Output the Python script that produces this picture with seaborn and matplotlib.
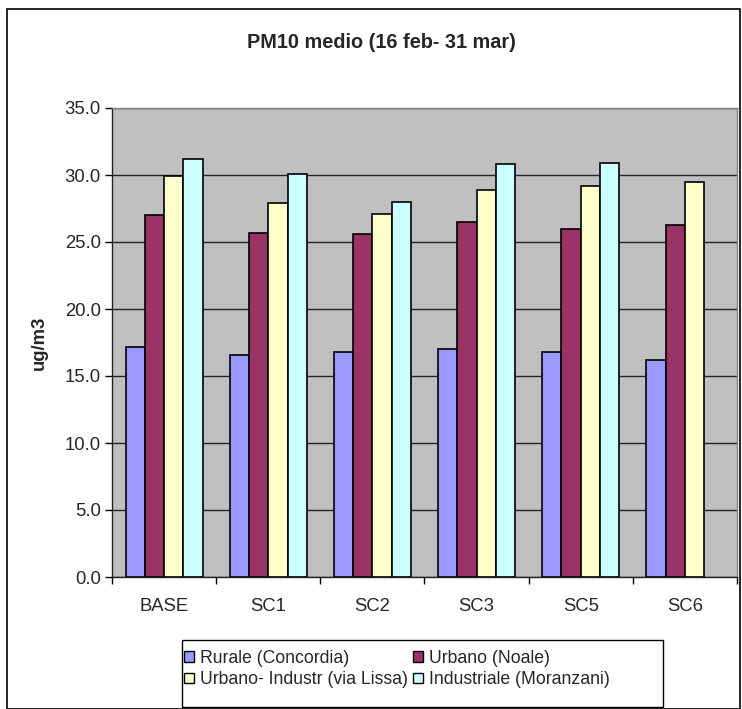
import numpy as np
import pandas as pd
import matplotlib
matplotlib.use("Agg")
import matplotlib.pyplot as plt
from matplotlib.patches import Rectangle, Patch
import seaborn as sns

scenarios = ["BASE", "SC1", "SC2", "SC3", "SC5", "SC6"]
series = ["Rurale (Concordia)", "Urbano (Noale)",
          "Urbano- Industr (via Lissa)", "Industriale (Moranzani)"]
rurale = [17.2, 16.6, 16.8, 17.0, 16.8, 16.2]
urbano = [27.0, 25.7, 25.6, 26.5, 26.0, 26.3]
urb_ind = [29.9, 27.9, 27.1, 28.9, 29.2, 29.5]
industriale = [31.2, 30.1, 28.0, 30.8, 30.9, np.nan]
colors = ["#9999FF", "#993366", "#FFFFCC", "#CCFFFF"]
yticks = [0, 5, 10, 15, 20, 25, 30, 35]

rows = []
for name, vals in zip(series, [rurale, urbano, urb_ind, industriale]):
    for sc, v in zip(scenarios, vals):
        rows.append({"Scenario": sc, "Serie": name, "val": v})
df = pd.DataFrame(rows)

sns.set_theme(style="white")
plt.rcParams["font.family"] = ["Liberation Sans", "DejaVu Sans"]

W, H = 742, 709
fig = plt.figure(figsize=(W / 100, H / 100), dpi=100)
ax = fig.add_axes([112 / W, 1 - 577 / H, (737 - 112) / W, (577 - 108) / H])
ax.set_facecolor("#C0C0C0")

sns.barplot(data=df, x="Scenario", y="val", hue="Serie", order=scenarios,
            hue_order=series, palette=colors, width=0.74, edgecolor="black",
            linewidth=1.2, ax=ax, legend=False, saturation=1)

ax.set_ylim(0, 35)
ax.set_xlim(-0.5, len(scenarios) - 0.5)
ax.set_yticks(yticks)
ax.set_yticklabels([f"{v:.1f}" for v in yticks], fontsize=13.3)
ax.yaxis.grid(True, color="#222222", linewidth=1)
ax.set_axisbelow(True)
ax.tick_params(axis="y", direction="out", length=5, width=1, color="black", left=True, pad=3)
ax.set_xticks(range(len(scenarios)))
ax.set_xticklabels(scenarios, fontsize=13.3)
ax.tick_params(axis="x", length=0, pad=15)
ax.set_xticks(np.arange(-0.5, len(scenarios), 1), minor=True)
ax.tick_params(axis="x", which="minor", direction="out", length=5, width=1, color="black", bottom=True)
ax.set_xlabel("")
ax.set_ylabel("ug/m3", fontsize=13.3, fontweight="bold", labelpad=12)

for s in ["top", "right"]:
    ax.spines[s].set_color("#808080")
    ax.spines[s].set_linewidth(1)
for s in ["left", "bottom"]:
    ax.spines[s].set_color("#222222")
    ax.spines[s].set_linewidth(1)

fig.text(381 / W, 1 - 43 / H, "PM10 medio (16 feb- 31 mar)",
         ha="center", va="center", fontsize=14.3, fontweight="bold")

# legend: row-major order like the reference (matplotlib fills column-major)
order = [0, 2, 1, 3]
handles = [Patch(facecolor=colors[i], edgecolor="black", linewidth=1) for i in order]
labels = [series[i] for i in order]
leg = fig.legend(handles, labels, loc="upper left",
                 bbox_to_anchor=(184 / W, 1 - 650 / H), ncol=2, fontsize=12.7,
                 frameon=False, handlelength=0.55, handleheight=0.55,
                 handletextpad=0.35, columnspacing=0.3, borderpad=0.0, labelspacing=0.25,
                 borderaxespad=0)
fig.patches.append(Rectangle((182 / W, 1 - 707 / H), (663 - 182) / W, (707 - 640) / H,
                             transform=fig.transFigure, fill=False,
                             edgecolor="black", linewidth=1))

fig.patches.append(Rectangle((7 / W, 0.0), (740 - 7) / W, 1 - 9 / H,
                             transform=fig.transFigure, fill=False,
                             edgecolor="black", linewidth=1.2))

fig.savefig("out.png", dpi=100)
